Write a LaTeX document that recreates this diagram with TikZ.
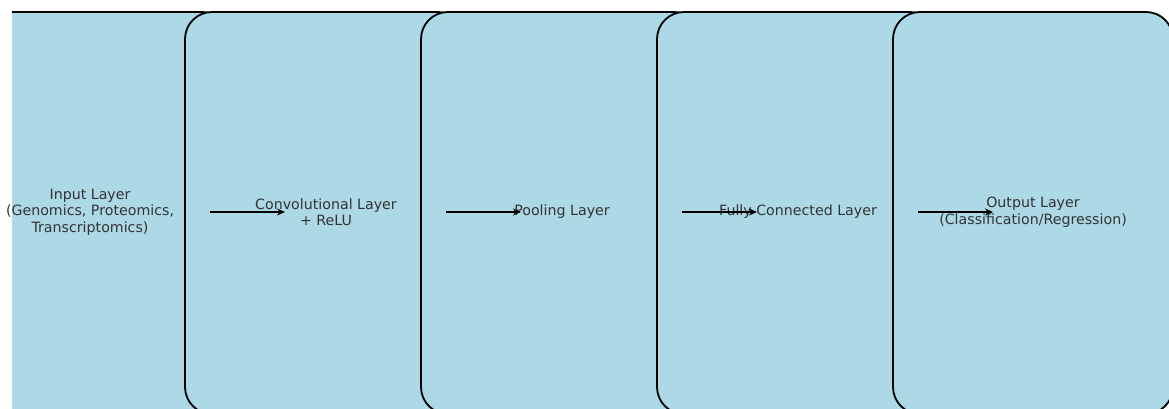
\documentclass[tikz,border=0pt]{standalone}
\usepackage{fontspec}
\setmainfont{DejaVu Sans}
\usetikzlibrary{arrows.meta}
\definecolor{boxfill}{HTML}{ADD8E6}
\definecolor{txt}{HTML}{333333}
\tikzset{
  layerbox/.style={draw=black, fill=boxfill, line width=1.8pt, rounded corners=27pt,
    minimum width=280pt, minimum height=402pt, inner sep=0pt, outer sep=0pt, anchor=north west},
  lbl/.style={text=txt, align=center, font=\fontsize{14.2}{16.5}\selectfont, inner sep=0pt},
  arr/.style={draw=black, line width=1.5pt, -{Stealth[length=8pt,width=7pt]}}
}
\begin{document}
\begin{tikzpicture}[x=1pt,y=-1pt]
\useasboundingbox (0,0) rectangle (1169,409);
\begin{scope}
\clip (12,10.5) rectangle (1169,409);
\node[layerbox] (b1) at (-51,12) {};
\node[layerbox] (b2) at (185,12) {};
\node[layerbox] (b3) at (421,12) {};
\node[layerbox] (b4) at (657,12) {};
\node[layerbox] (b5) at (893,12) {};
\end{scope}
\node[lbl] (t1) at (90,212) {Input Layer\\(Genomics, Proteomics,\\Transcriptomics)};
\node[lbl] (t2) at (326,212) {Convolutional Layer\\+ ReLU};
\node[lbl] (t3) at (562,212) {Pooling Layer};
\node[lbl] (t4) at (798,212) {Fully Connected Layer};
\node[lbl] (t5) at (1033,212) {Output Layer\\(Classification/Regression)};
\coordinate (a1s) at (210,212); \coordinate (a1e) at (285,212);
\coordinate (a2s) at (446,212); \coordinate (a2e) at (521,212);
\coordinate (a3s) at (682,212); \coordinate (a3e) at (757,212);
\coordinate (a4s) at (918,212); \coordinate (a4e) at (993,212);
\draw[arr] (a1s) -- (a1e);
\draw[arr] (a2s) -- (a2e);
\draw[arr] (a3s) -- (a3e);
\draw[arr] (a4s) -- (a4e);
\end{tikzpicture}
\end{document}
